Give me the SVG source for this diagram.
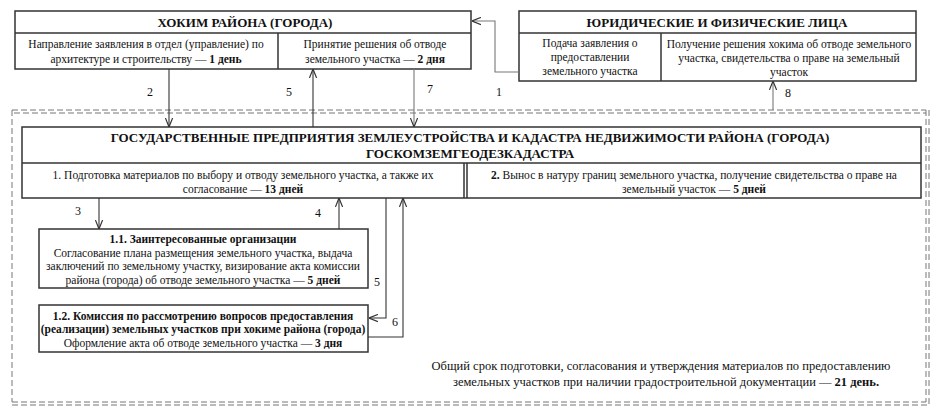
<svg xmlns="http://www.w3.org/2000/svg" width="940" height="414" viewBox="0 0 940 414" font-family="'Liberation Serif', 'Times New Roman', 'DejaVu Serif', serif">
<style>
text{font-family:"Liberation Serif","Times New Roman","DejaVu Serif",serif;fill:#111;text-anchor:middle}
.t{font-size:11.5px}
.h{font-size:13px;font-weight:bold}
.b{font-weight:bold}
.n{font-size:12px}
.f{font-size:12.5px}
.box{fill:#fff;stroke:#333;stroke-width:1.5}
.c{fill:none;stroke:#333;stroke-width:1.1}
.cg{fill:none;stroke:#777;stroke-width:1.1}
.d{fill:none;stroke:#777;stroke-width:1;stroke-dasharray:6 3}
</style>
<defs>
<marker id="a" viewBox="0 0 10 10" refX="10" refY="5" markerWidth="9" markerHeight="9" orient="auto" markerUnits="userSpaceOnUse">
<path d="M0,1 L10,5 L0,9" fill="none" stroke="#333" stroke-width="1.3"/>
</marker>
</defs>
<g id="frame">
<path class="d" d="M12,110 H926 M14,113 H926 M12,110 V402 M926,110 V402 M929,110 V404 M12,402 H926 M12,405 H929"/>
</g>
<g id="khokim">
<rect class="box" x="15" y="11" width="456" height="58"/>
<line class="box" x1="15" y1="33" x2="471" y2="33"/>
<line class="box" x1="278" y1="33" x2="278" y2="69"/>
<text class="h" x="245" y="27">ХОКИМ РАЙОНА (ГОРОДА)</text>
<text class="t" x="146" y="48">Направление заявления в отдел (управление) по</text>
<text class="t" x="146" y="63">архитектуре и строительству — <tspan class="b">1 день</tspan></text>
<text class="t" x="375" y="48">Принятие решения об отводе</text>
<text class="t" x="375" y="63">земельного участка — <tspan class="b">2 дня</tspan></text>
</g>
<g id="legal">
<rect class="box" x="519" y="11" width="397" height="70"/>
<line class="box" x1="519" y1="33" x2="916" y2="33"/>
<line class="box" x1="661" y1="33" x2="661" y2="81"/>
<text class="h" x="717" y="27">ЮРИДИЧЕСКИЕ И ФИЗИЧЕСКИЕ ЛИЦА</text>
<text class="t" x="590" y="47">Подача заявления о</text>
<text class="t" x="590" y="61">предоставлении</text>
<text class="t" x="590" y="75">земельного участка</text>
<text class="t" x="789" y="48">Получение решения хокима об отводе земельного</text>
<text class="t" x="789" y="62">участка, свидетельства о праве на земельный</text>
<text class="t" x="789" y="76">участок</text>
</g>
<g id="gos">
<rect class="box" x="22" y="127" width="899" height="71"/>
<line class="box" x1="22" y1="163" x2="921" y2="163"/>
<line class="box" x1="464" y1="163" x2="464" y2="198"/>
<line class="box" x1="467" y1="163" x2="467" y2="198"/>
<text class="h" x="470" y="142">ГОСУДАРСТВЕННЫЕ ПРЕДПРИЯТИЯ ЗЕМЛЕУСТРОЙСТВА И КАДАСТРА НЕДВИЖИМОСТИ РАЙОНА (ГОРОДА)</text>
<text class="h" x="470" y="158">ГОСКОМЗЕМГЕОДЕЗКАДАСТРА</text>
<text class="t" x="243" y="179">1. Подготовка материалов по выбору и отводу земельного участка, а также их</text>
<text class="t" x="243" y="193">согласование — <tspan class="b">13 дней</tspan></text>
<text class="t" x="694" y="179"><tspan class="b">2.</tspan> Вынос в натуру границ земельного участка, получение свидетельства о праве на</text>
<text class="t" x="694" y="193">земельный участок — <tspan class="b">5 дней</tspan></text>
</g>
<g id="org">
<rect class="box" x="39" y="229" width="329" height="59"/>
<text class="t b" x="203" y="243">1.1. Заинтересованные организации</text>
<text class="t" x="203" y="257">Согласование плана размещения земельного участка, выдача</text>
<text class="t" x="203" y="270">заключений по земельному участку, визирование акта комиссии</text>
<text class="t" x="203" y="284">района (города) об отводе земельного участка — <tspan class="b">5 дней</tspan></text>
</g>
<g id="commission">
<rect class="box" x="39" y="305" width="329" height="47"/>
<text class="t b" x="203" y="320">1.2. Комиссия по рассмотрению вопросов предоставления</text>
<text class="t b" x="203" y="333">(реализации) земельных участков при хокиме района (города)</text>
<text class="t" x="203" y="347">Оформление акта об отводе земельного участка — <tspan class="b">3 дня</tspan></text>
</g>
<g id="total">
<text class="f" x="661" y="370">Общий срок подготовки, согласования и утверждения материалов по предоставлению</text>
<text class="f" x="666" y="386">земельных участков при наличии градостроительной документации —  <tspan class="b">21 день.</tspan></text>
</g>
<g id="connectors">
<path class="cg" d="M519,72 H495 V21 H472" marker-end="url(#a)"/>
<path class="c" d="M169,69 V127" marker-end="url(#a)"/>
<path class="c" d="M313,127 V69" marker-end="url(#a)"/>
<path class="cg" d="M414,69 V127" marker-end="url(#a)"/>
<path class="cg" d="M773,110 V81" marker-end="url(#a)"/>
<path class="c" d="M99,198 V229" marker-end="url(#a)"/>
<path class="c" d="M339,229 V198" marker-end="url(#a)"/>
<path class="c" d="M386,198 V318 H369" marker-end="url(#a)"/>
<path class="c" d="M368,337 H403 V198" marker-end="url(#a)"/>
<text class="n" x="150" y="96">2</text>
<text class="n" x="289" y="96">5</text>
<text class="n" x="430" y="93">7</text>
<text class="n" x="499" y="96">1</text>
<text class="n" x="788" y="97">8</text>
<text class="n" x="78" y="215">3</text>
<text class="n" x="318" y="217">4</text>
<text class="n" x="377" y="286">5</text>
<text class="n" x="395" y="326">6</text>
</g>
</svg>
